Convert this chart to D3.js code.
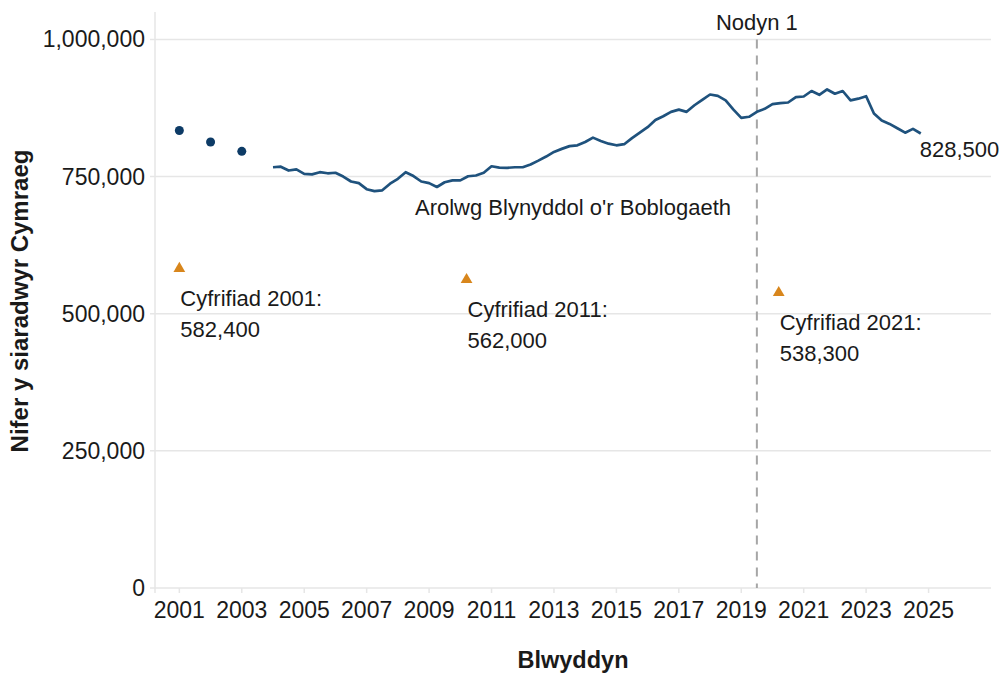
<!DOCTYPE html>
<html>
<head>
<meta charset="utf-8">
<script src="https://cdn.jsdelivr.net/npm/d3@7"></script>
<style>
    body { margin: 0; background: #fff; }
    svg text { font-family: "Liberation Sans", Arial, sans-serif; fill: #1a1a1a; }
</style>
</head>
<body>
<div id="svg_div"></div>
<script>
// Annual Population Survey, quarterly, starting 2004 Q1 (thousands)
var apsStartYear = 2004;
var apsValues = [
    767, 768, 761, 763, 755, 754, 758, 756,
    757, 750, 741, 738, 727, 723.5, 725, 737,
    746, 758, 751, 741, 738, 731, 739.6, 743,
    743, 750.6, 752, 757, 768.8, 766.4, 766, 767,
    767, 772, 779, 786.5, 795, 800.5, 805.5, 807,
    813, 821, 815, 810, 807, 809, 820, 830,
    840, 853, 860, 868, 872, 868, 880, 890,
    899.6, 897, 889, 872, 857, 859, 868, 873.5,
    882, 884, 885, 895, 896, 906, 899, 908.8,
    901, 906, 889, 892, 896.5, 865, 852, 846,
    838, 830, 837, 828.5
];

// Early survey points (thousands)
var earlyYears = [2001, 2002, 2003];
var earlyValues = [834, 813, 796];

// Census points
var censusYears = [2001, 2010.2, 2020.2];
var censusValues = [582400, 562000, 538300];
var censusLabels = ["Cyfrifiad 2001:", "Cyfrifiad 2011:", "Cyfrifiad 2021:"];

// Axis ticks
var xTicks = [2001, 2003, 2005, 2007, 2009, 2011, 2013, 2015, 2017, 2019, 2021, 2023, 2025];
var yTicks = [0, 250000, 500000, 750000, 1000000];

var noteYear = 2019.5;
var noteLabel = "Nodyn 1";
var apsLabel = "Arolwg Blynyddol o'r Boblogaeth";

var fmt = d3.format(",");

var svg = d3.select("#svg_div").append("svg").attr("width", 1003).attr("height", 673);

// Scales
var xScale = d3.scaleLinear().domain([2000.22, 2027]).range([155, 991]);
var yScale = d3.scaleLinear().domain([0, 1050000]).range([588, 12]);

// Gridlines (also serve as y ticks)
svg.append("g").selectAll("line")
    .data(yTicks)
    .enter()
    .append("line")
    .attr("x1", xScale.range()[0] - 5)
    .attr("x2", xScale.range()[1])
    .attr("y1", function(d) { return yScale(d); })
    .attr("y2", function(d) { return yScale(d); })
    .attr("stroke", "#e6e6e6")
    .attr("stroke-width", 1.5);

// Y axis line
svg.append("line")
    .attr("x1", xScale.range()[0]).attr("x2", xScale.range()[0])
    .attr("y1", yScale.range()[1]).attr("y2", yScale(0) + 5)
    .attr("stroke", "#e6e6e6")
    .attr("stroke-width", 1.5);

// X ticks
svg.append("g").selectAll("line")
    .data(xTicks)
    .enter()
    .append("line")
    .attr("x1", function(d) { return xScale(d); })
    .attr("x2", function(d) { return xScale(d); })
    .attr("y1", yScale(0))
    .attr("y2", yScale(0) + 5)
    .attr("stroke", "#e6e6e6")
    .attr("stroke-width", 1.5);

// Y tick labels
svg.append("g").selectAll("text")
    .data(yTicks)
    .enter()
    .append("text")
    .attr("x", xScale.range()[0] - 10)
    .attr("y", function(d) { return yScale(d); })
    .attr("dy", "0.35em")
    .attr("text-anchor", "end")
    .style("font-size", "23px")
    .text(function(d) { return fmt(d); });

// X tick labels
svg.append("g").selectAll("text")
    .data(xTicks)
    .enter()
    .append("text")
    .attr("x", function(d) { return xScale(d); })
    .attr("y", yScale(0) + 30)
    .attr("text-anchor", "middle")
    .style("font-size", "23px")
    .text(function(d) { return d; });

// Axis titles
svg.append("text")
    .attr("x", 573)
    .attr("y", 668)
    .attr("text-anchor", "middle")
    .style("font-size", "23.5px")
    .style("font-weight", "bold")
    .text("Blwyddyn");

svg.append("text")
    .attr("transform", "translate(28,301) rotate(-90)")
    .attr("text-anchor", "middle")
    .style("font-size", "24px")
    .style("font-weight", "bold")
    .text("Nifer y siaradwyr Cymraeg");

// Note line
svg.append("line")
    .attr("x1", xScale(noteYear)).attr("x2", xScale(noteYear))
    .attr("y1", yScale(1000000)).attr("y2", yScale(0))
    .attr("stroke", "#a6a6a6")
    .attr("stroke-width", 2)
    .attr("stroke-dasharray", "9,7");

svg.append("text")
    .attr("x", xScale(noteYear))
    .attr("y", 30)
    .attr("text-anchor", "middle")
    .style("font-size", "22px")
    .text(noteLabel);

// APS line
var apsData = apsValues.map(function(v, i) {
    return {year: apsStartYear + i / 4, value: v * 1000};
});

var line = d3.line()
    .x(function(d) { return xScale(d.year); })
    .y(function(d) { return yScale(d.value); });

svg.append("path")
    .datum(apsData)
    .attr("d", line)
    .attr("fill", "none")
    .attr("stroke", "#1f527d")
    .attr("stroke-width", 2.7)
    .attr("stroke-linejoin", "round");

// Early survey dots
svg.append("g").selectAll("circle")
    .data(earlyYears)
    .enter()
    .append("circle")
    .attr("cx", function(d) { return xScale(d); })
    .attr("cy", function(d, i) { return yScale(earlyValues[i] * 1000); })
    .attr("r", 4.5)
    .attr("fill", "#0d3b66");

// Census triangles
var triangle = d3.symbol().type(d3.symbolTriangle).size(60);
svg.append("g").selectAll("path")
    .data(censusYears)
    .enter()
    .append("path")
    .attr("d", triangle)
    .attr("transform", function(d, i) {
        return "translate(" + [xScale(d), yScale(censusValues[i])] + ")";
    })
    .attr("fill", "#d8861c");

// Census labels
var censusG = svg.append("g").selectAll("text")
    .data(censusYears)
    .enter()
    .append("text")
    .attr("x", function(d) { return xScale(d) + 1; })
    .attr("y", function(d, i) { return yScale(censusValues[i]) + 37; })
    .style("font-size", "22px");

censusG.append("tspan")
    .text(function(d, i) { return censusLabels[i]; });

censusG.append("tspan")
    .attr("x", function(d) { return xScale(d) + 1; })
    .attr("dy", 31)
    .text(function(d, i) { return fmt(censusValues[i]); });

// APS labels
svg.append("text")
    .attr("x", 573)
    .attr("y", 215)
    .attr("text-anchor", "middle")
    .style("font-size", "22px")
    .text(apsLabel);

var last = apsData[apsData.length - 1];
svg.append("text")
    .attr("x", xScale(last.year) - 1)
    .attr("y", yScale(last.value) + 23)
    .style("font-size", "22px")
    .text(fmt(last.value));
</script>
</body>
</html>
